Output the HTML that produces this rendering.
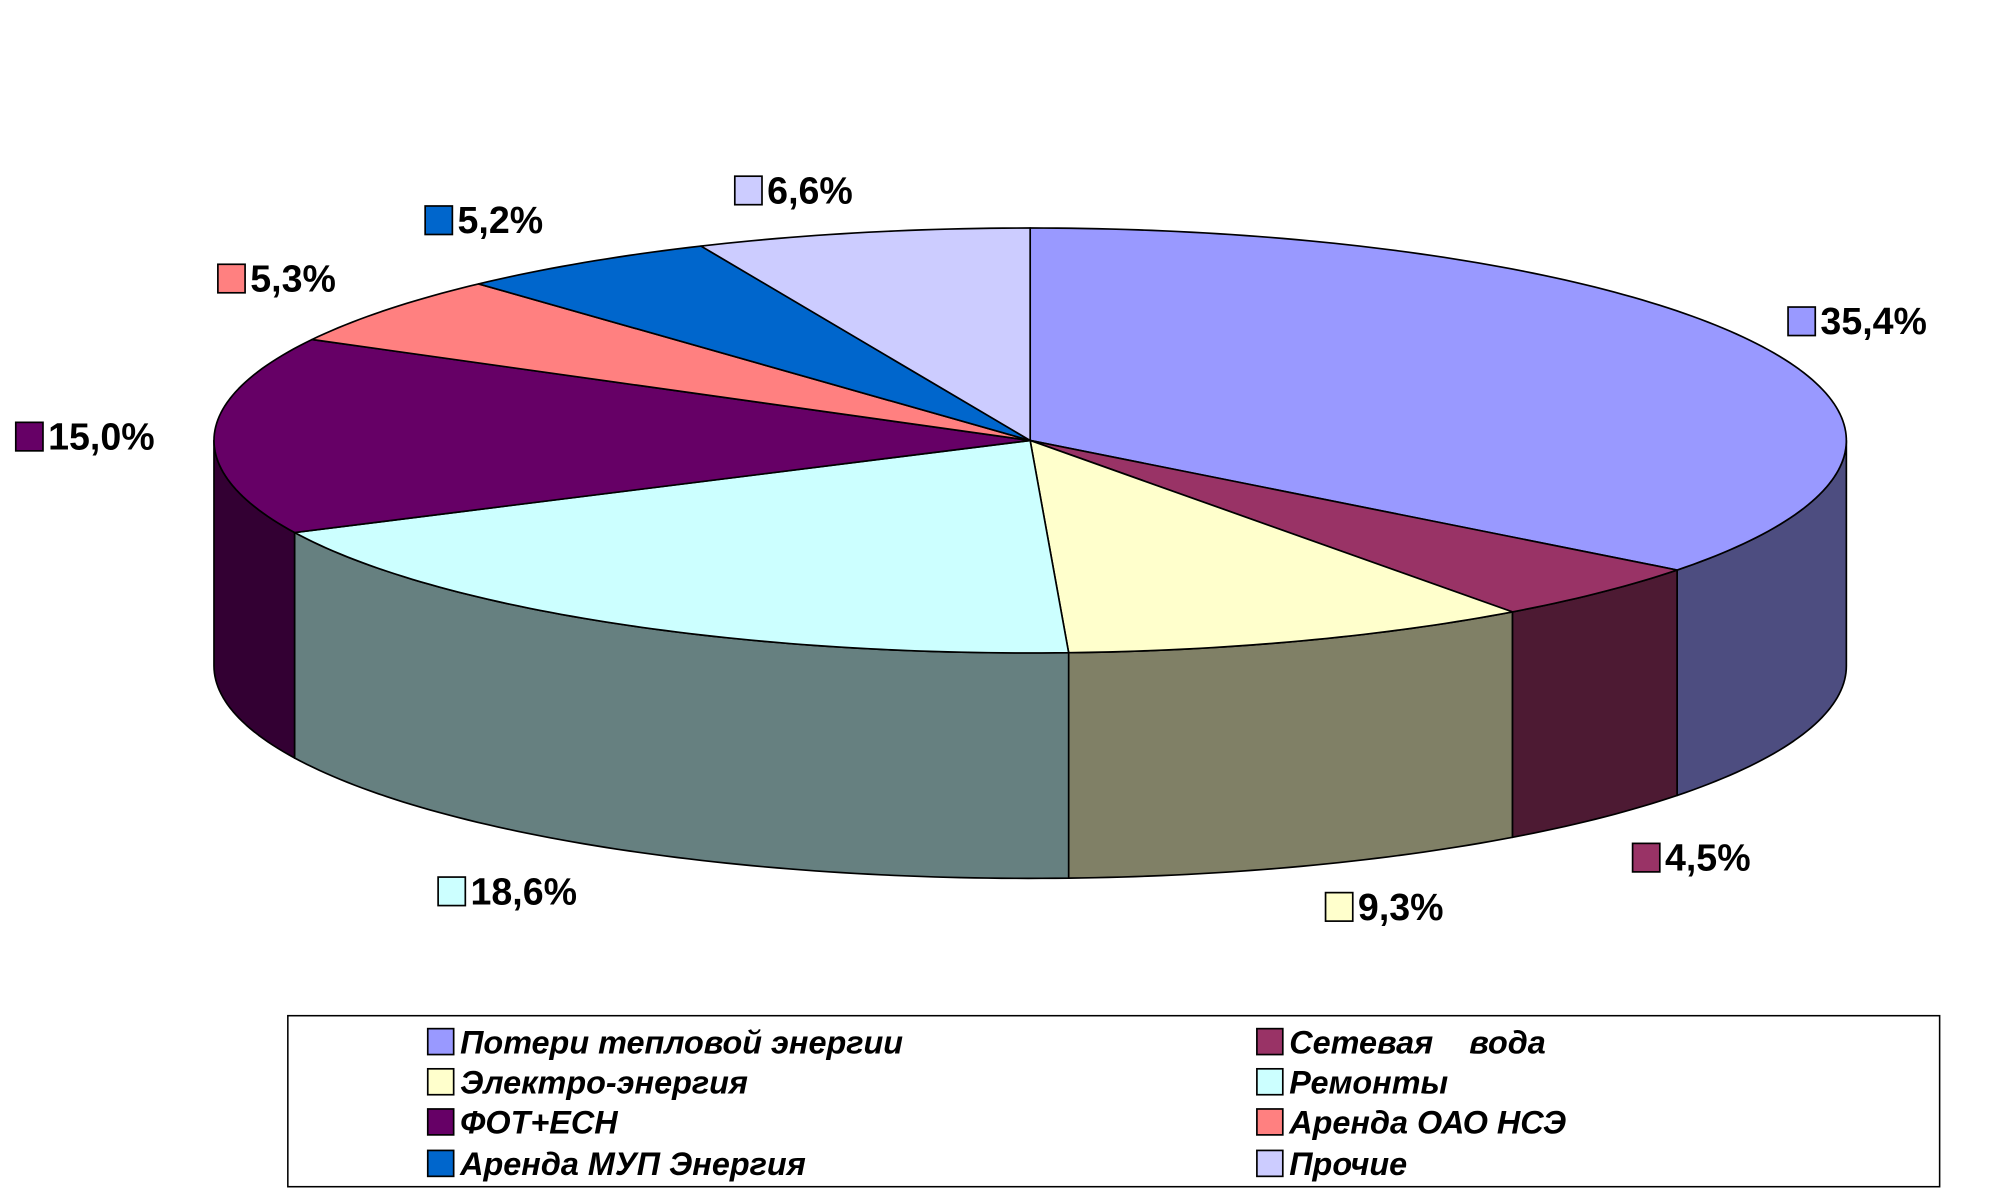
<!DOCTYPE html>
<html><head><meta charset="utf-8">
<style>
html,body{margin:0;padding:0;background:#fff;}
svg{display:block;}
text{font-family:"Liberation Sans","DejaVu Sans",sans-serif;}
</style></head>
<body>
<svg id="chart" width="2015" height="1188" viewBox="0 0 1555 917" xmlns="http://www.w3.org/2000/svg">
<g id="sides"></g>
<g id="tops"></g>
<g id="labels"></g>
<g id="legend">
<rect x="222" y="784" width="1275" height="132" fill="#fff" stroke="#000" stroke-width="1.2"/>
</g>
</svg>
<script>
const categories = ["Потери тепловой энергии","Сетевая    вода","Электро-энергия","Ремонты","ФОТ+ЕСН","Аренда ОАО НСЭ","Аренда МУП Энергия","Прочие"];
const values = [35.4, 4.5, 9.3, 18.6, 15.0, 5.3, 5.2, 6.6];
const valueLabels = ["35,4%","4,5%","9,3%","18,6%","15,0%","5,3%","5,2%","6,6%"];
const topColors = ["#9999ff","#993366","#ffffcc","#ccffff","#660066","#ff8080","#0066cc","#ccccff"];
const sideColors = ["#4d4d80","#4d1a33","#808066","#668080","#330033","#804040","#003366","#666680"];
// label anchor positions (layout, not data)
const labelPos = [[1380,248],[1260,662],[1023,700],[338,688],[12,337],[168,215],[328,170],[567,147]];

const NS="http://www.w3.org/2000/svg";
const cx=795, cy=340, rx=630, ry=164, depth=174;
const total = values.reduce((a,b)=>a+b,0);
function pt(a,dy){return [cx+rx*Math.sin(a), cy-ry*Math.cos(a)+(dy||0)];}
function mk(tag,attrs){const e=document.createElementNS(NS,tag);for(const k in attrs)e.setAttribute(k,attrs[k]);return e;}

const sides=document.getElementById('sides'), tops=document.getElementById('tops'), labels=document.getElementById('labels'), legend=document.getElementById('legend');
let acc=0;
const angles=values.map(v=>{const a0=acc/total*2*Math.PI; acc+=v; return [a0, acc/total*2*Math.PI];});

function arcPts(a0,a1,dy){const n=Math.max(2,Math.ceil((a1-a0)*60));const p=[];for(let i=0;i<=n;i++){p.push(pt(a0+(a1-a0)*i/n,dy));}return p;}

angles.forEach(([a0,a1],i)=>{
  // side: visible for angles in [PI/2, 3PI/2]
  const s=Math.max(a0,Math.PI/2), e=Math.min(a1,3*Math.PI/2);
  if(e>s){
    const top=arcPts(s,e,0), bot=arcPts(s,e,depth).reverse();
    const d='M'+top.concat(bot).map(p=>p[0].toFixed(2)+','+p[1].toFixed(2)).join('L')+'Z';
    const p=mk('path',{d:d,fill:sideColors[i],stroke:'#000','stroke-width':1.3,'stroke-linejoin':'round'});
    
    
    sides.appendChild(p);
  }
  const pts=arcPts(a0,a1,0);
  const d='M'+cx+','+cy+'L'+pts.map(p=>p[0].toFixed(2)+','+p[1].toFixed(2)).join('L')+'Z';
  const p=mk('path',{d:d,fill:topColors[i],stroke:'#000','stroke-width':1.3,'stroke-linejoin':'round'});
  
  
  tops.appendChild(p);
});

valueLabels.forEach((t,i)=>{
  const [x,y]=labelPos[i];
  const r=mk('rect',{x:x,y:y-11,width:21,height:22,fill:topColors[i],stroke:'#000','stroke-width':1.3});
  
  
  labels.appendChild(r);
  const tx=mk('text',{x:x+25,y:y+10,'font-size':29,'font-weight':'bold',fill:'#000'});
  tx.textContent=t;
  
  
  labels.appendChild(tx);
});

const rowsY=[804,835,866,898];
categories.forEach((c,i)=>{
  const col=i%2, row=Math.floor(i/2);
  const bx=col? 970:330, y=rowsY[row];
  const r=mk('rect',{x:bx,y:y-10,width:20,height:20,fill:topColors[i],stroke:'#000','stroke-width':1.3});
  
  
  legend.appendChild(r);
  const tx=mk('text',{x:bx+25,y:y+9,'font-size':25,'font-weight':'bold','font-style':'italic',fill:'#000','xml:space':'preserve'});
  tx.setAttribute('style','white-space:pre');
  tx.textContent=c;
  
  
  legend.appendChild(tx);
});
</script>
</body></html>
